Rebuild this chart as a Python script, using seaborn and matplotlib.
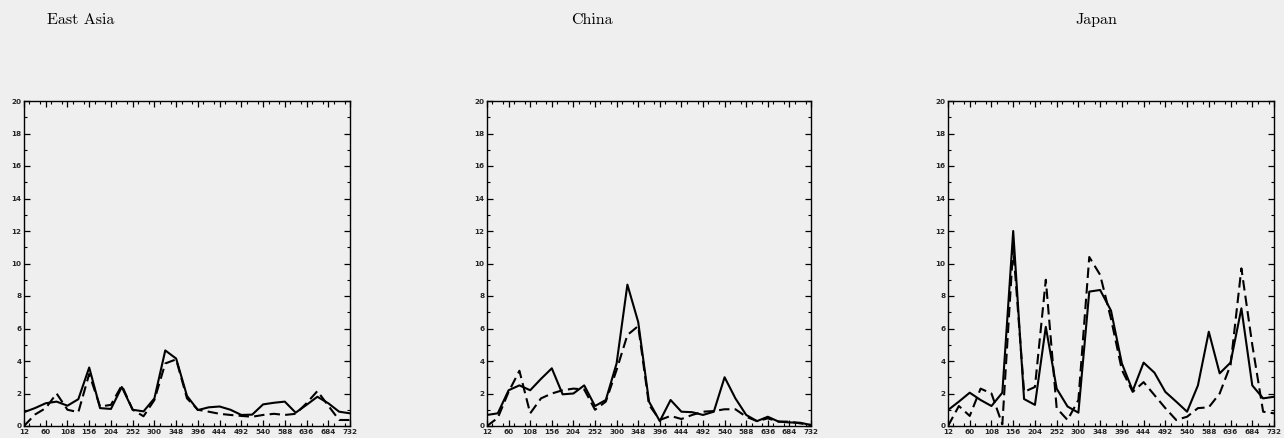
import matplotlib
matplotlib.use("Agg")
import matplotlib.pyplot as plt
import seaborn as sns
import pandas as pd
from matplotlib.ticker import FixedLocator, MultipleLocator

# ---------------- data ----------------
hours = [12, 36, 60, 84, 108, 132, 156, 180, 204, 228, 252, 276, 300, 324, 348, 372,
         396, 420, 444, 468, 492, 516, 540, 564, 588, 612, 636, 660, 684, 708, 732]

east_asia_solid = [0.85, 1.1, 1.4, 1.5, 1.25, 1.65, 3.6, 1.1, 1.05, 2.4, 1.0, 0.9, 1.7, 4.65, 4.15, 1.85,
                   0.98, 1.15, 1.2, 1.0, 0.68, 0.7, 1.33, 1.43, 1.5, 0.82, 1.3, 1.8, 1.4, 0.88, 0.78]
east_asia_dashed = [0.0, 0.7, 1.1, 2.0, 1.0, 0.85, 3.2, 1.2, 1.3, 2.5, 1.0, 0.6, 1.6, 3.85, 4.1, 1.7,
                    1.0, 0.88, 0.75, 0.68, 0.62, 0.57, 0.68, 0.75, 0.68, 0.75, 1.4, 2.15, 1.25, 0.37, 0.37]

china_solid = [0.68, 0.78, 2.2, 2.5, 2.2, 2.9, 3.55, 1.95, 2.0, 2.5, 1.23, 1.6, 3.85, 8.7, 6.4, 1.5,
               0.3, 1.6, 0.88, 0.85, 0.68, 0.88, 3.0, 1.7, 0.68, 0.3, 0.57, 0.27, 0.22, 0.2, 0.06]
china_dashed = [0.0, 0.5, 2.1, 3.4, 0.78, 1.7, 2.0, 2.2, 2.3, 2.25, 1.0, 1.5, 3.45, 5.6, 6.15, 1.3,
                0.37, 0.62, 0.43, 0.68, 0.88, 0.92, 1.03, 1.03, 0.57, 0.3, 0.47, 0.27, 0.27, 0.16, 0.06]

japan_solid = [0.98, 1.5, 2.05, 1.6, 1.23, 2.05, 12.0, 1.66, 1.3, 6.1, 2.3, 1.2, 0.82, 8.27, 8.37, 7.1,
               3.85, 2.17, 3.9, 3.28, 2.1, 1.5, 0.88, 2.5, 5.8, 3.24, 3.9, 7.24, 2.5, 1.7, 1.8]
japan_dashed = [0.0, 1.23, 0.62, 2.3, 2.0, 0.1, 11.0, 2.1, 2.4, 9.0, 1.1, 0.37, 1.6, 10.4, 9.3, 6.6,
                3.45, 2.1, 2.7, 1.9, 1.1, 0.37, 0.57, 1.1, 1.15, 2.0, 3.75, 9.7, 5.0, 0.88, 0.78]

titles = ["East Asia", "China", "Japan"]
x_tick_labels = [12, 60, 108, 156, 204, 252, 300, 348, 396, 444, 492, 540, 588, 636, 684, 732]
y_tick_labels = [0, 2, 4, 6, 8, 10, 12, 14, 16, 18, 20]

# ---------------- style ----------------
sns.set_style("ticks")
bg = "#efefef"
plt.rcParams["font.family"] = ["Liberation Sans Narrow", "DejaVu Sans"]

fig = plt.figure(figsize=(12.84, 4.38), dpi=100, facecolor=bg)

W, H = 1284, 438
axes_px = [(24, 350), (487, 811), (948, 1274)]
top_px, bot_px = 101, 426
title_pos = [(81, 20), (592, 20), (1096, 20)]

series = [(east_asia_solid, east_asia_dashed),
          (china_solid, china_dashed),
          (japan_solid, japan_dashed)]

for (l, r), (solid, dashed), title, (tx, ty) in zip(axes_px, series, titles, title_pos):
    ax = fig.add_axes([l / W, (H - bot_px) / H, (r - l) / W, (bot_px - top_px) / H])
    ax.set_facecolor(bg)
    df = pd.DataFrame({"hour": hours, "solid": solid, "dashed": dashed})
    sns.lineplot(data=df, x="hour", y="solid", ax=ax, color="black", lw=1.5,
                 linestyle="-", errorbar=None)
    sns.lineplot(data=df, x="hour", y="dashed", ax=ax, color="black", lw=1.5,
                 linestyle=(0, (5, 2.5)), errorbar=None)
    ax.set_xlim(12, 732)
    ax.set_ylim(0, 20)
    ax.set_xlabel("")
    ax.set_ylabel("")
    ax.xaxis.set_major_locator(FixedLocator(x_tick_labels))
    ax.xaxis.set_minor_locator(MultipleLocator(24))
    ax.yaxis.set_major_locator(FixedLocator(y_tick_labels))
    ax.yaxis.set_minor_locator(MultipleLocator(1))
    ax.set_xticklabels([str(v) for v in x_tick_labels])
    ax.set_yticklabels([str(v) for v in y_tick_labels])
    ax.tick_params(which="both", direction="in", top=True, right=True, color="black")
    ax.tick_params(which="major", length=4, width=0.9, labelsize=5.2, pad=2)
    ax.tick_params(which="minor", length=2.2, width=0.8)
    for lab in ax.get_xticklabels() + ax.get_yticklabels():
        lab.set_fontweight("bold")
    for sp in ax.spines.values():
        sp.set_visible(True)
        sp.set_linewidth(1.0)
        sp.set_color("black")
    fig.text(tx / W, 1 - ty / H, title, ha="center", va="center",
             fontsize=11.5, family="cmr10", color="black")

fig.savefig("out.png", dpi=100, facecolor=bg)
